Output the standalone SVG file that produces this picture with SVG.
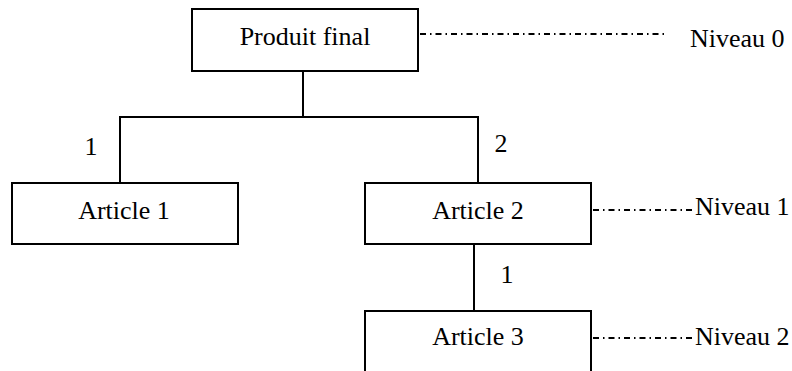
<svg xmlns="http://www.w3.org/2000/svg" width="792" height="371" viewBox="0 0 792 371">
  <style>
    .box { fill: #fff; stroke: #000; stroke-width: 2; }
    .link { fill: none; stroke: #000; stroke-width: 2; }
    .level { fill: none; stroke: #000; stroke-width: 1.8; stroke-dasharray: 6 4 1.5 4; }
    text { font-family: "Liberation Serif", "Times New Roman", serif; font-size: 26px; fill: #000; }
    .c { text-anchor: middle; }
  </style>
  <rect width="792" height="371" fill="#fff"/>

  <!-- tree links -->
  <g id="connectors">
    <polyline class="link" points="303,71 303,117"/>
    <polyline class="link" points="120,183 120,117 478,117 478,183"/>
    <line class="link" x1="474" y1="244" x2="474" y2="311"/>
    <text class="c" x="91" y="155">1</text>
    <text class="c" x="501" y="152">2</text>
    <text class="c" x="507" y="283">1</text>
  </g>

  <g id="produit-final">
    <rect class="box" x="192" y="9" width="226" height="62"/>
    <text class="c" x="305" y="45">Produit final</text>
  </g>
  <g id="article-1">
    <rect class="box" x="12" y="183" width="226" height="61"/>
    <text class="c" x="124" y="219">Article 1</text>
  </g>
  <g id="article-2">
    <rect class="box" x="365" y="183" width="226" height="61"/>
    <text class="c" x="478" y="219">Article 2</text>
  </g>
  <g id="article-3">
    <rect class="box" x="365" y="311" width="226" height="70"/>
    <text class="c" x="478" y="345">Article 3</text>
  </g>

  <!-- level markers -->
  <g id="niveaux">
    <line class="level" x1="420" y1="34" x2="668" y2="34"/>
    <text x="690" y="47">Niveau 0</text>
    <line class="level" x1="593" y1="210" x2="693" y2="210"/>
    <text x="695" y="215">Niveau 1</text>
    <line class="level" x1="593" y1="338" x2="693" y2="338"/>
    <text x="695" y="345">Niveau 2</text>
  </g>
</svg>
